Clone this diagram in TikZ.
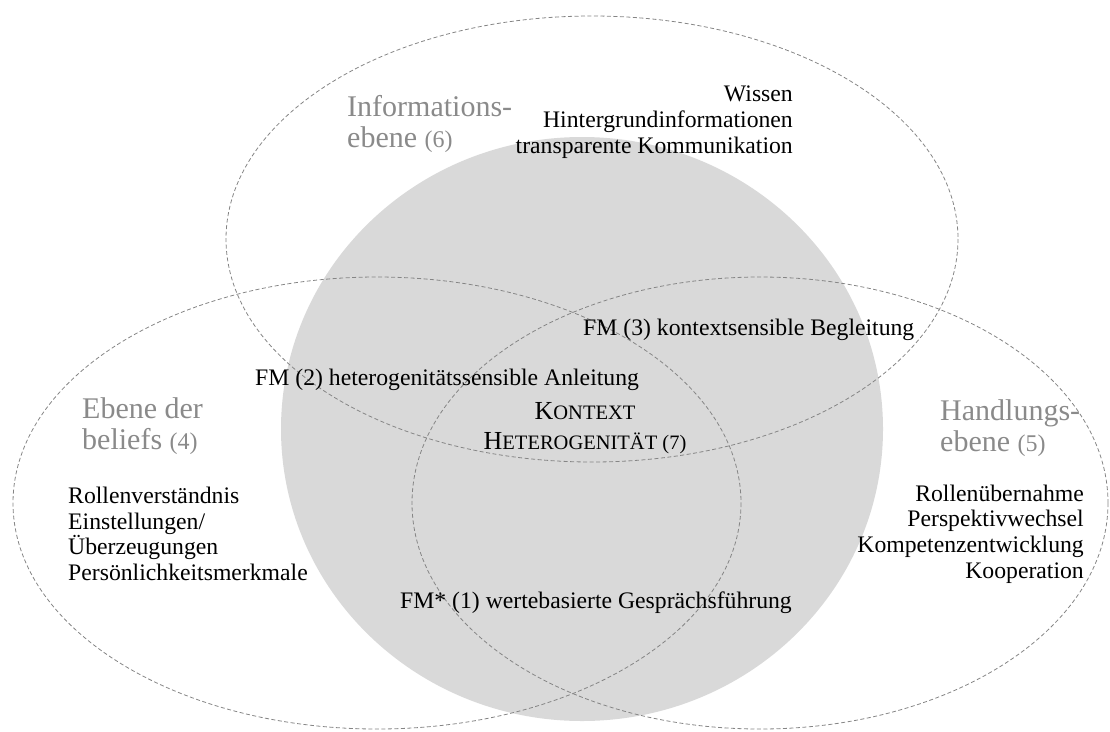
\documentclass[tikz,border=0pt]{standalone}
\usepackage{fontspec}
\setmainfont{Liberation Serif}
\definecolor{discgrey}{HTML}{D9D9D9}
\definecolor{rimgrey}{HTML}{858585}
\definecolor{labelgrey}{HTML}{8A8A8A}
% caps with a smaller tail, for the context heading
\newcommand\smallcapsfake[2]{{\fontsize{26}{30}\selectfont #1}{\fontsize{20.5}{30}\selectfont #2}}
\newcommand\levelno[1]{{\fontsize{24}{31}\selectfont #1}}
\begin{document}
\begin{tikzpicture}[x=1pt,y=-1pt,
  level/.style={draw=rimgrey,line width=0.8pt,dash pattern=on 4pt off 2.5pt},
  body/.style={inner sep=0pt,font=\fontsize{23.7}{25.7}\selectfont},
  levellabel/.style={inner sep=0pt,text=labelgrey,align=left,font=\fontsize{30}{31}\selectfont}]
  \useasboundingbox (0,0) rectangle (1110,731);

  % shared context disc
  \fill[discgrey] (582,429) ellipse [x radius=301, y radius=292];

  % the three levels
  \draw[level] (592,239) ellipse [x radius=366, y radius=223];
  \draw[level] (377,503) ellipse [x radius=364, y radius=226];
  \draw[level] (760,503) ellipse [x radius=348, y radius=226];

  % information level
  \node[levellabel,anchor=west] (infolabel) at (347,124) {Informations-\\ebene \levelno{(6)}};
  \node[body,anchor=east,align=right] (infolist) at (793,122)
    {Wissen\\Hintergrundinformationen\\transparente Kommunikation};

  % beliefs level
  \node[levellabel,anchor=west] (belieflabel) at (82,426) {Ebene der\\beliefs \levelno{(4)}};
  \node[body,anchor=west,align=left] (belieflist) at (68,534)
    {Rollenverständnis\\Einstellungen/\\Überzeugungen\\Persönlichkeitsmerkmale};

  % action level
  \node[levellabel,anchor=west] (actionlabel) at (940,428) {Handlungs-\\ebene \levelno{(5)}};
  \node[body,anchor=east,align=right] (actionlist) at (1084,534)
    {Rollenübernahme\\Perspektivwechsel\\Kompetenzentwicklung\\Kooperation};

  % context in the middle
  \node[inner sep=0pt,align=center,font=\fontsize{26}{30}\selectfont] (kontext) at (585,428)
    {\smallcapsfake{K}{ONTEXT}\\\smallcapsfake{H}{ETEROGENITÄT (7)}};

  % guidance methods in the overlaps
  \node[body,anchor=west] (fm3) at (583,330) {FM (3) kontextsensible Begleitung};
  \node[body,anchor=west] (fm2) at (255,380) {FM (2) heterogenitätssensible Anleitung};
  \node[body,anchor=west] (fm1) at (400,603) {FM* (1) wertebasierte Gesprächsführung};
\end{tikzpicture}
\end{document}
